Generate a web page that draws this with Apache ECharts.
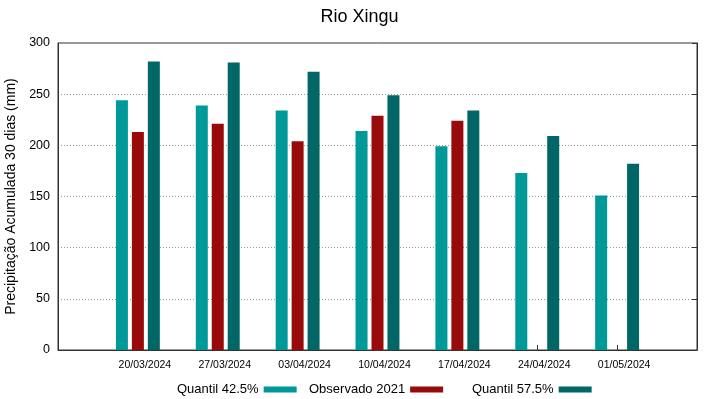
<!DOCTYPE html>
<html>
  <head>
    <meta charset="utf-8" />
    <title>Rio Xingu</title>
    <script src="https://cdn.jsdelivr.net/npm/echarts@6/dist/echarts.min.js"></script>
    <style>
      body { margin: 0; background: #fff; }
      #main { width: 719px; height: 399px; }
    </style>
  </head>
  <body>
    <div id="main"></div>
    <script type="text/javascript">
      // dados
      var datas = ["20/03/2024", "27/03/2024", "03/04/2024", "10/04/2024", "17/04/2024", "24/04/2024", "01/05/2024"];
      var quantil425 = [244, 239, 234, 214, 199, 173, 151];
      var observado2021 = [213, 221, 204, 229, 224, null, null];
      var quantil575 = [282, 281, 272, 249, 234, 209, 182];
      var yTicks = [0, 50, 100, 150, 200, 250, 300];
      var nomes = ["Quantil 42.5%", "Observado 2021", "Quantil 57.5%"];

      // categoria vazia em cada ponta, como no gnuplot (xrange -1:7)
      function pad(a) { return [null].concat(a, [null]); }

      var fonte = "Liberation Sans";
      var myChart = echarts.init(document.getElementById("main"));

      // uma legenda por série, para imitar as colunas do gnuplot
      var legendLeft = [172, 304, 467];
      var legends = nomes.map(function (n, i) {
        return {
          top: 378,
          left: legendLeft[i],
          align: "right",
          icon: "rect",
          itemWidth: 33,
          itemHeight: 6,
          textStyle: { fontFamily: fonte, fontSize: 13, color: "#000" },
          data: [n]
        };
      });

      var option = {
        animation: false,
        textStyle: { fontFamily: fonte, color: "#000" },
        title: {
          text: "Rio Xingu",
          left: "center",
          top: 3,
          textStyle: { fontFamily: fonte, fontSize: 18, fontWeight: "normal", color: "#000" }
        },
        legend: legends,
        grid: {
          left: 58, right: 22, top: 43, bottom: 49,
          outerBoundsMode: "none",
          show: true, borderColor: "#333", borderWidth: 1
        },
        xAxis: {
          type: "category",
          boundaryGap: false,
          data: [""].concat(datas, [""]),
          axisLine: { lineStyle: { color: "#333" } },
          axisTick: { inside: true, length: 5, lineStyle: { color: "#333" } },
          axisLabel: {
            fontFamily: fonte, fontSize: 10.5, color: "#000",
            margin: 10, padding: [0, 0, 0, 14], interval: 0
          },
          splitLine: { show: false }
        },
        yAxis: [
          {
            type: "value",
            min: yTicks[0],
            max: yTicks[yTicks.length - 1],
            interval: 50,
            name: "Precipitação Acumulada 30 dias (mm)",
            nameLocation: "middle",
            nameGap: 34,
            nameTextStyle: { fontFamily: fonte, fontSize: 14, color: "#000" },
            axisLine: { show: true, lineStyle: { color: "#333" } },
            axisTick: { show: false },
            axisLabel: { fontFamily: fonte, fontSize: 12.5, color: "#000", margin: 8 },
            splitLine: { lineStyle: { color: "#999", type: [1, 2], width: 1 } }
          },
          {
            type: "value",
            position: "right",
            min: yTicks[0],
            max: yTicks[yTicks.length - 1],
            interval: 50,
            axisLine: { show: true, lineStyle: { color: "#333" } },
            axisTick: { show: true, inside: true, length: 5, lineStyle: { color: "#333" } },
            axisLabel: { show: false },
            splitLine: { show: false }
          }
        ],
        series: [
          {
            name: nomes[0],
            type: "bar",
            data: pad(quantil425),
            barWidth: 12,
            barGap: "33%",
            itemStyle: { color: "#009999" }
          },
          {
            name: nomes[1],
            type: "bar",
            data: pad(observado2021),
            barWidth: 12,
            barGap: "33%",
            itemStyle: { color: "#990b0b" }
          },
          {
            name: nomes[2],
            type: "bar",
            data: pad(quantil575),
            barWidth: 12,
            barGap: "33%",
            itemStyle: { color: "#006666" }
          }
        ]
      };

      myChart.setOption(option);
    </script>
  </body>
</html>
